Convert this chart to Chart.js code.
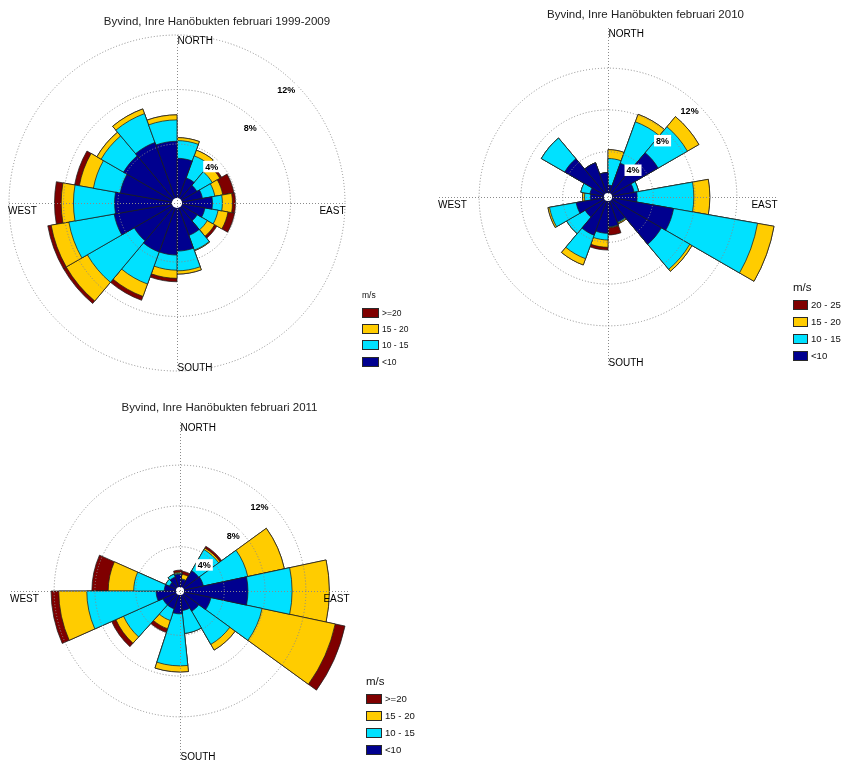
<!DOCTYPE html>
<html>
<head>
<meta charset="utf-8">
<title>Byvind, Inre Hanöbukten februari</title>
<script src="https://cdn.jsdelivr.net/npm/chart.js@4.4.1/dist/chart.umd.min.js"></script>
<style>
  html, body { margin: 0; padding: 0; background: #fff; }
  body { width: 843px; height: 760px; position: relative; overflow: hidden;
         font-family: "Liberation Sans", Arial, Helvetica, sans-serif; }
  canvas { position: absolute; }
  .title { position: absolute; font-size: 11.5px; line-height: 14px; color: #222;
           white-space: nowrap; text-align: center; width: 300px; }
  .lg { position: absolute; color: #111; white-space: nowrap; }
  .sw { position: absolute; box-sizing: border-box; border: 1px solid #2a2a2a; }
</style>
</head>
<body>
<canvas id="rose1999" width="420" height="385" style="left:0px;top:0px"></canvas>
<canvas id="rose2010" width="418" height="385" style="left:425px;top:0px"></canvas>
<canvas id="rose2011" width="420" height="375" style="left:0px;top:385px"></canvas>
<div id="overlay"></div>
<script>
// ---- wind speed classes (m/s) and their colours, inner to outer ----
const classesA = ['<10', '10 - 15', '15 - 20', '>=20'];
const classesB = ['<10', '10 - 15', '15 - 20', '20 - 25'];
const classColors = ['#00008f', '#00e1ff', '#ffcc00', '#7f0000'];

// percentage rings that are drawn and labelled
const ringValues = [4, 8, 12];

// ---- February 1999-2009: 18 sectors of 20 degrees, first sector 0-20 ----
const sectors18 = ['0-20', '20-40', '40-60', '60-80', '80-100', '100-120', '120-140', '140-160', '160-180',
                   '180-200', '200-220', '220-240', '240-260', '260-280', '280-300', '300-320', '320-340', '340-360'];
const p1999_lt10  = [2.95, 1.63, 1.36, 1.57, 2.27, 1.75, 1.38, 2.20, 3.20, 3.49, 3.50, 3.30, 4.35, 4.25, 3.90, 4.20, 4.40, 4.20];
const p1999_10_15 = [1.30, 1.72, 1.30, 0.92, 0.73, 0.98, 0.86, 1.15, 1.45, 1.11, 2.50, 3.97, 3.38, 3.02, 2.00, 1.90, 2.25, 1.57];
const p1999_15_20 = [0.22, 0.45, 0.64, 0.59, 0.74, 0.74, 0.62, 0.05, 0.24, 0.60, 0.97, 1.79, 1.32, 0.90, 1.05, 0.36, 0.37, 0.37];
const p1999_ge20  = [0.00, 0.00, 0.15, 0.83, 0.22, 0.49, 0.19, 0.00, 0.00, 0.25, 0.30, 0.24, 0.25, 0.49, 0.35, 0.00, 0.00, 0.00];

// ---- February 2010: 18 sectors of 20 degrees ----
const p2010_lt10  = [0.80, 3.10, 5.20, 2.20, 2.45, 6.04, 5.57, 2.20, 2.50, 3.14, 3.55, 2.19, 2.76, 1.34, 1.42, 4.45, 3.15, 2.00];
const p2010_10_15 = [2.55, 4.22, 3.24, 0.43, 5.43, 8.16, 3.13, 0.10, 0.05, 0.64, 2.40, 2.05, 2.59, 0.57, 0.88, 2.58, 0.00, 0.00];
const p2010_15_20 = [0.85, 0.77, 1.27, 0.00, 1.53, 1.60, 0.25, 0.10, 0.05, 0.70, 0.64, 0.00, 0.15, 0.19, 0.00, 0.00, 0.00, 0.00];
const p2010_20_25 = [0.00, 0.00, 0.00, 0.00, 0.00, 0.00, 0.00, 0.00, 0.70, 0.26, 0.00, 0.00, 0.00, 0.00, 0.00, 0.00, 0.00, 0.00];

// ---- February 2011: 15 sectors of 24 degrees, first sector 6-30 ----
const sectors15 = ['6-30', '30-54', '54-78', '78-102', '102-126', '126-150', '150-174', '174-198',
                   '198-222', '222-246', '246-270', '270-294', '294-318', '318-342', '342-6'];
const p2011_lt10  = [0.80, 1.94, 2.00, 6.32, 2.76, 1.94, 1.58, 1.90, 1.50, 1.50, 2.00, 1.20, 0.80, 1.10, 1.30];
const p2011_10_15 = [0.05, 2.41, 4.45, 4.33, 5.13, 3.76, 2.26, 5.10, 1.20, 4.22, 6.80, 3.00, 0.40, 0.30, 0.10];
const p2011_15_20 = [0.45, 0.17, 3.67, 3.65, 7.33, 0.65, 0.00, 0.60, 0.85, 0.83, 2.75, 2.50, 0.00, 0.00, 0.10];
const p2011_ge20  = [0.30, 0.20, 0.00, 0.00, 0.98, 0.00, 0.00, 0.00, 0.39, 0.45, 0.75, 1.60, 0.00, 0.00, 0.20];

const GRID_COLOR = '#8a8a8a';
const FONT = '"Liberation Sans", Arial, Helvetica, sans-serif';

// compass axes, hub, direction names and ring labels
const compassPlugin = {
  id: 'compass',
  afterDatasetsDraw(chart) {
    const s = chart.scales.r, ctx = chart.ctx;
    const cx = s.xCenter, cy = s.yCenter, R = s.drawingArea;
    ctx.save();
    ctx.fillStyle = '#ffffff';
    ctx.beginPath();
    ctx.arc(cx, cy, s.getDistanceFromCenterForValue(0) + 0.6, 0, Math.PI * 2);
    ctx.fill();
    ctx.strokeStyle = GRID_COLOR;
    ctx.lineWidth = 1;
    ctx.setLineDash([1, 2]);
    ctx.beginPath();
    ctx.moveTo(cx + 0.5, cy - R); ctx.lineTo(cx + 0.5, cy + R);
    ctx.moveTo(cx - R, cy + 0.5); ctx.lineTo(cx + R, cy + 0.5);
    ctx.stroke();
    ctx.restore();
  },
  afterDraw(chart) {
    const s = chart.scales.r, ctx = chart.ctx;
    const cx = s.xCenter, cy = s.yCenter, R = s.drawingArea;
    ctx.save();
    ctx.fillStyle = '#000';
    ctx.font = '10px ' + FONT;
    ctx.textBaseline = 'alphabetic';
    ctx.textAlign = 'left';
    ctx.fillText('NORTH', cx + 0.5, cy - R + 9);
    ctx.fillText('SOUTH', cx + 0.5, cy + R);
    ctx.fillText('WEST', cx - R - 1, cy + 10.5);
    ctx.textAlign = 'right';
    ctx.fillText('EAST', cx + R + 0.5, cy + 10.5);

    ctx.font = 'bold 9px ' + FONT;
    ringValues.forEach(v => {
      const rr = s.getDistanceFromCenterForValue(v);
      const px = cx + rr * Math.SQRT1_2;
      const py = cy - rr * Math.SQRT1_2;
      const txt = v + '%';
      const w = ctx.measureText(txt).width;
      ctx.fillStyle = '#ffffff';
      ctx.fillRect(px - w - 2.5, py - 0.5, w + 4, 11.5);
      ctx.fillStyle = '#000';
      ctx.textAlign = 'right';
      ctx.fillText(txt, px - 0.5, py + 8.5);
    });
    ctx.restore();
  }
};

function cumulative(series) {
  const out = [];
  let run = series[0].map(() => 0);
  series.forEach(s => {
    run = run.map((v, i) => +(v + s[i]).toFixed(3));
    out.push(run.slice());
  });
  return out;
}

function makeRose(id, labels, series, classes, scaleMin, scaleMax, startAngle, padding) {
  const stacked = cumulative(series);
  new Chart(document.getElementById(id), {
    type: 'polarArea',
    data: {
      labels: labels,
      // dataset 0 is painted last, so the innermost class lies on top
      datasets: stacked.map((d, i) => ({
        label: classes[i],
        data: d,
        backgroundColor: classColors[i],
        borderColor: '#1e1e1e',
        borderWidth: 0.75
      }))
    },
    options: {
      responsive: false,
      animation: false,
      events: [],
      layout: { padding: padding },
      plugins: { legend: { display: false }, tooltip: { enabled: false }, title: { display: false } },
      scales: {
        r: {
          min: scaleMin,
          max: scaleMax,
          startAngle: startAngle,
          ticks: { display: false, stepSize: 4 },
          pointLabels: { display: false },
          angleLines: { display: false },
          grid: {
            circular: true,
            z: 1,
            lineWidth: 1,
            color: c => (c.tick && ringValues.includes(c.tick.value)) ? GRID_COLOR : 'rgba(0,0,0,0)'
          },
          border: { dash: [1, 2] }
        }
      }
    },
    plugins: [compassPlugin]
  });
}

makeRose('rose1999', sectors18, [p1999_lt10, p1999_10_15, p1999_15_20, p1999_ge20], classesA,
         -0.33, 12, 0, { left: 9, top: 35, right: 75, bottom: 14 });
makeRose('rose2010', sectors18, [p2010_lt10, p2010_10_15, p2010_15_20, p2010_20_25], classesB,
         -0.335, 15.84, 0, { left: 14, top: 28, right: 66, bottom: 19 });
makeRose('rose2011', sectors15, [p2011_lt10, p2011_10_15, p2011_15_20, p2011_ge20], classesA,
         -0.343, 16.23, 6, { left: 11, top: 37, right: 71, bottom: 0 });

// ---- titles and legends ----
const overlay = document.getElementById('overlay');
function addTitle(text, centerX, top) {
  const d = document.createElement('div');
  d.className = 'title';
  d.textContent = text;
  d.style.left = (centerX - 150) + 'px';
  d.style.top = top + 'px';
  overlay.appendChild(d);
}
function addLegend(classes, x, headTop, headSize, rowTops, boxW, textSize) {
  const h = document.createElement('div');
  h.className = 'lg';
  h.textContent = 'm/s';
  h.style.left = x + 'px';
  h.style.top = headTop + 'px';
  h.style.fontSize = headSize + 'px';
  h.style.lineHeight = Math.round(headSize * 1.15) + 'px';
  overlay.appendChild(h);
  // strongest class first, as in the key
  for (let k = 0; k < classes.length; k++) {
    const ci = classes.length - 1 - k;
    const sw = document.createElement('div');
    sw.className = 'sw';
    sw.style.left = x + 'px';
    sw.style.top = rowTops[k] + 'px';
    sw.style.width = boxW + 'px';
    sw.style.height = '10px';
    sw.style.background = classColors[ci];
    overlay.appendChild(sw);
    const t = document.createElement('div');
    t.className = 'lg';
    t.textContent = classes[ci];
    t.style.left = (x + boxW + 3) + 'px';
    t.style.top = rowTops[k] + 'px';
    t.style.fontSize = textSize + 'px';
    t.style.lineHeight = '10px';
    overlay.appendChild(t);
  }
}

addTitle('Byvind, Inre Hanöbukten februari 1999-2009', 217, 14);
addTitle('Byvind, Inre Hanöbukten februari 2010', 645.5, 7);
addTitle('Byvind, Inre Hanöbukten februari 2011', 219.5, 400);

addLegend(classesA, 362, 290, 8.5, [308, 324, 340, 357], 17, 8.5);
addLegend(classesB, 793, 281, 11.5, [300, 317, 334, 351], 15, 9.6);
addLegend(classesA, 366, 675, 11.5, [694, 711, 728, 745], 16, 9.6);
</script>
</body>
</html>
